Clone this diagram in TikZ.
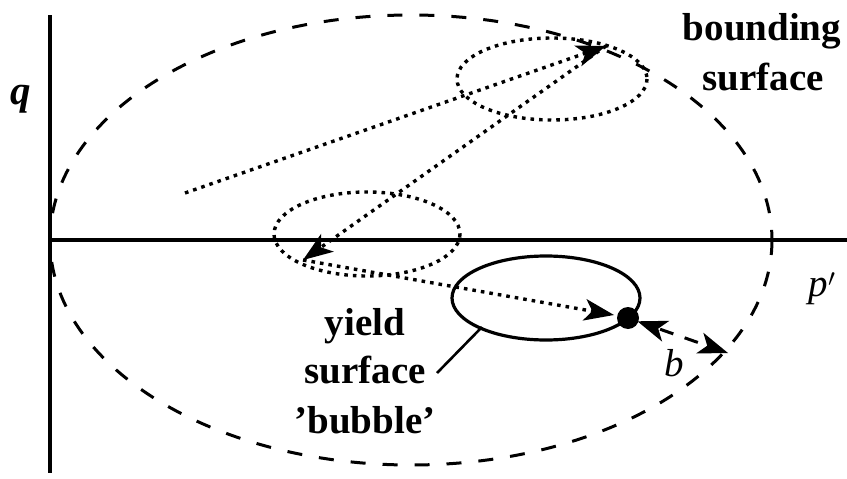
\documentclass[tikz,border=0pt]{standalone}
\usepackage{fontspec}
\setmainfont{Liberation Serif}
\usetikzlibrary{calc}
\newcommand{\myhead}[2]{\fill (#1) -- ($(#1)!30pt!(#2)!11pt!90:(#1)$) -- ($(#1)!22pt!(#2)$) -- ($(#1)!30pt!(#2)!11pt!-90:(#1)$) -- cycle;}
\begin{document}
\begin{tikzpicture}[x=1pt,y=-1pt,
  axis/.style={line width=3.2pt},
  bound/.style={line width=3pt, dash pattern=on 15pt off 17pt},
  dots/.style={line width=3.4pt, dash pattern=on 3.6pt off 5pt},
  yieldsurf/.style={line width=3.2pt},
  lbl/.style={font=\fontsize{39}{39}\selectfont\bfseries, inner sep=0pt, anchor=base}]
\fill[white] (0,0) rectangle (847,479);
\useasboundingbox (0,0) rectangle (847,479);
% axes
\coordinate (O) at (50,240);
\coordinate (ytop) at (50,15);
\coordinate (ybot) at (50,473);
\coordinate (xend) at (847,240);
\draw[axis] (ytop) -- (ybot);
\draw[axis] (O) -- (xend);
% bounding surface
\draw[bound] (411,240) ellipse [x radius=361, y radius=225];
% yield surfaces (earlier positions)
\draw[dots] (552,79) ellipse [x radius=95, y radius=41];
\draw[dots] (367,234) ellipse [x radius=93, y radius=42];
% current bubble
\draw[yieldsurf] (546,298) ellipse [x radius=94, y radius=42];
% stress path
\coordinate (A) at (185,193);
\coordinate (B) at (606,46);
\coordinate (C) at (303,260);
\coordinate (D) at (614,315);
\draw[dots] (A) -- ($(B)!20pt!(A)$);
\myhead{B}{A}
\draw[dots] (B) -- ($(C)!20pt!(B)$);
\myhead{C}{B}
\draw[dots] (C) -- ($(D)!20pt!(C)$);
\myhead{D}{C}
% current stress point
\node[circle, fill=black, minimum size=22pt, inner sep=0pt] (P) at (628,318) {};
% distance b
\coordinate (Q) at (728,353);
\coordinate (Pe) at ($(P)!10pt!(Q)$);
\draw[line width=3pt, dash pattern=on 14pt off 12pt] ($(Pe)!24pt!(Q)$) -- ($(Q)!24pt!(Pe)$);
\myhead{Pe}{Q}
\myhead{Q}{Pe}
\node[lbl, font=\fontsize{39}{39}\selectfont\itshape] (b) at (674,376) {b};
% labels
\node[lbl, font=\fontsize{41}{41}\selectfont\itshape\bfseries] (q) at (21,104) {q};
\node[lbl, font=\fontsize{39}{39}\selectfont\itshape] (p) at (822,296) {p$'$};
\node[lbl] (bs1) at (762,40) {bounding};
\node[lbl] (bs2) at (763,90) {surface};
\node[lbl] (ys1) at (365,335) {yield};
\node[lbl] (ys2) at (365,383) {surface};
\node[lbl] (ys3) at (365,433) {'bubble'};
\coordinate (leadstart) at (437,373);
\coordinate (lead) at (482,327);
\draw[line width=2.6pt] (leadstart) -- (lead);
\end{tikzpicture}
\end{document}
